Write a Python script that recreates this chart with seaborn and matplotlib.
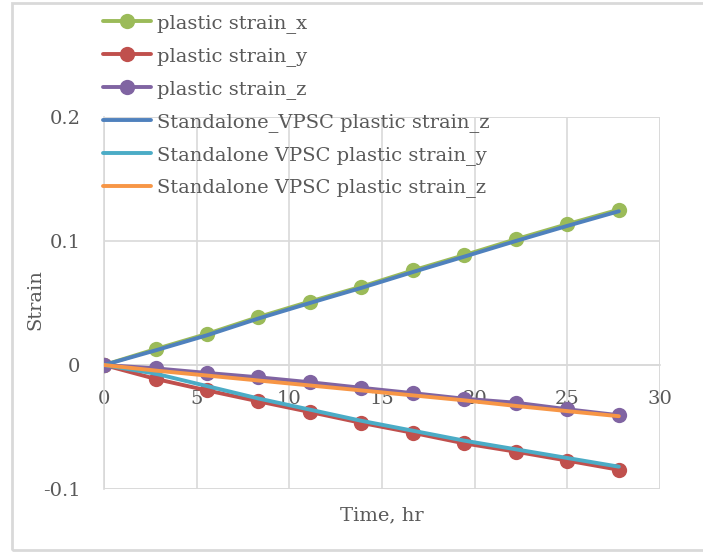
import numpy as np
import pandas as pd
import matplotlib
matplotlib.use("Agg")
import matplotlib.pyplot as plt
import seaborn as sns
from matplotlib.patches import Rectangle

# ---- data ----
time_hr = [0, 2.78, 5.56, 8.33, 11.11, 13.89, 16.67, 19.44, 22.22, 25.0, 27.78]
strain_x = [0, 0.0128, 0.0251, 0.0387, 0.0512, 0.0632, 0.0763, 0.0886, 0.1014, 0.1136, 0.1253]
strain_y = [0, -0.0112, -0.0205, -0.0293, -0.0379, -0.0467, -0.0547, -0.0632, -0.0699, -0.0771, -0.0845]
strain_z = [0, -0.0027, -0.0064, -0.0099, -0.0139, -0.0184, -0.0227, -0.0272, -0.0304, -0.0357, -0.0405]
vpsc_x = [0, 0.0118, 0.0240, 0.0375, 0.0500, 0.0622, 0.0750, 0.0874, 0.1000, 0.1122, 0.1240]
vpsc_y = [0, -0.0070, -0.0170, -0.0270, -0.0360, -0.0450, -0.0530, -0.0610, -0.0680, -0.0750, -0.0820]
vpsc_z = [0, -0.0045, -0.0085, -0.0125, -0.0165, -0.0205, -0.0245, -0.0285, -0.0330, -0.0372, -0.0413]

labels = ["plastic strain_x", "plastic strain_y", "plastic strain_z",
          "Standalone_VPSC plastic strain_z", "Standalone VPSC plastic strain_y",
          "Standalone VPSC plastic strain_z"]
colors = ["#9BBB59", "#C0504D", "#8064A2", "#4F81BD", "#4BACC6", "#F79646"]
x_ticks = [0, 5, 10, 15, 20, 25, 30]
y_ticks = [-0.1, 0, 0.1, 0.2]
y_ticklabels = ["-0.1", "0", "0.1", "0.2"]

series = [strain_x, strain_y, strain_z, vpsc_x, vpsc_y, vpsc_z]
df = pd.concat([pd.DataFrame({"Time": time_hr, "Strain": s, "Series": lab})
                for s, lab in zip(series, labels)], ignore_index=True)

sns.set_theme(style="white")
plt.rcParams['font.family'] = ['DejaVu Serif']

W, H = 703, 552
fig = plt.figure(figsize=(W/100, H/100), dpi=100)
ax = fig.add_axes([104/W, 1-489/H, (660-104)/W, (489-117)/H])

tick_col = "#595959"
grid_col = "#D9D9D9"
fs = 14

for i, lab in enumerate(labels):
    sub = df[df["Series"] == lab]
    marker = "o" if i < 3 else None
    sns.lineplot(data=sub, x="Time", y="Strain", ax=ax, color=colors[i],
                 linewidth=2.8, marker=marker, markersize=11 if marker else 0,
                 markeredgewidth=0, label=lab, zorder=3 + i, legend=False,
                 estimator=None, sort=False)

ax.set_xlim(0, 30)
ax.set_ylim(-0.1, 0.2)
ax.set_xticks(x_ticks)
ax.set_yticks(y_ticks)
ax.set_yticklabels(y_ticklabels)
ax.grid(True, color=grid_col, linewidth=1.2)
ax.set_axisbelow(True)

for side in ["top", "right"]:
    ax.spines[side].set_visible(False)
ax.spines["bottom"].set_position(("data", 0))
ax.spines["bottom"].set_color(grid_col)
ax.spines["left"].set_color(grid_col)
ax.spines["bottom"].set_linewidth(1.2)
ax.spines["left"].set_linewidth(1.2)
ax.add_patch(Rectangle((0, 0), 1, 1, transform=ax.transAxes, fill=False,
                       edgecolor=grid_col, linewidth=1.2, zorder=0))

ax.tick_params(axis="both", length=0, labelsize=fs, colors=tick_col)
ax.tick_params(axis="x", pad=18)
ax.tick_params(axis="y", pad=17)
ax.set_xlabel("Time, hr", fontsize=fs, color=tick_col)
ax.set_ylabel("Strain", fontsize=fs, color=tick_col)
ax_w = 660 - 104
ax_h = 489 - 117
ax.xaxis.set_label_coords(0.5, -(515 - 489) / ax_h, transform=ax.transAxes)
ax.xaxis.label.set_va("center")
ax.yaxis.set_label_coords(-(104 - 35) / ax_w, (489 - 300) / ax_h, transform=ax.transAxes)
ax.yaxis.label.set_va("center")

handles, labs = ax.get_legend_handles_labels()
leg = fig.legend(handles, labs, loc="upper left", bbox_to_anchor=(95/W, 1-6/H),
                 frameon=False, fontsize=fs, labelcolor=tick_col,
                 handlelength=2.5, handletextpad=0.3, labelspacing=0.72,
                 borderaxespad=0)

fig.add_artist(Rectangle((12/W, 2/H), 1.0, 1-5/H, transform=fig.transFigure,
                         fill=False, edgecolor="#D9D9D9", linewidth=2))

fig.savefig("out.png", dpi=100, facecolor="white")
